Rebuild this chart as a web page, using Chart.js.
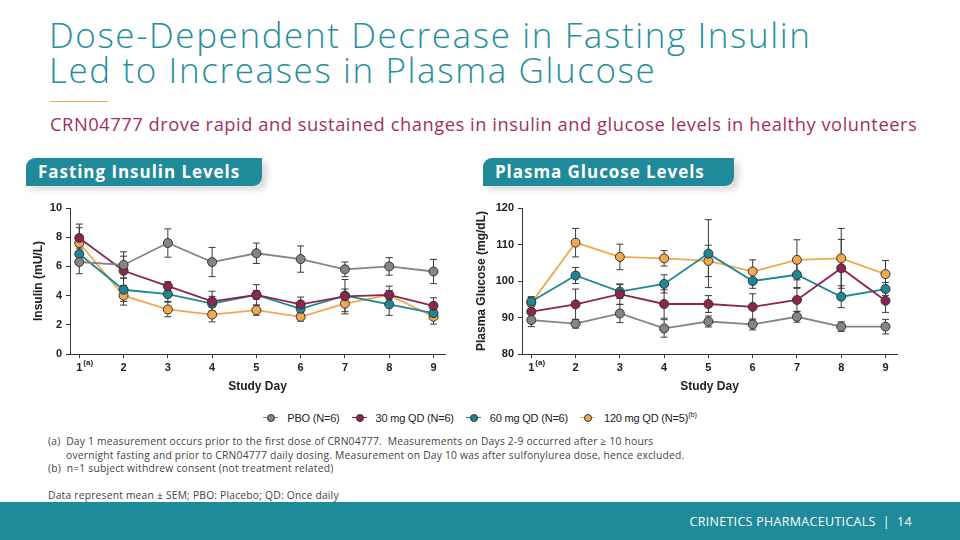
<!DOCTYPE html>
<html lang="en">
<head>
    <meta charset="UTF-8">
    <title>Dose-Dependent Decrease in Fasting Insulin</title>
    <script src="https://cdn.jsdelivr.net/npm/chart.js"></script>
    <style>
        body { margin: 0; width: 960px; height: 540px; position: relative; overflow: hidden; background: #fff; font-family: "Open Sans", sans-serif; }
        #title { position: absolute; left: 49px; top: 17px; font-size: 35px; line-height: 35px; color: #25909c; font-weight: 300; letter-spacing: 1.6px; }
        #rule { position: absolute; left: 50px; top: 101px; width: 58px; height: 1px; background: #f0a94a; }
        #subtitle { position: absolute; left: 50px; top: 111px; font-size: 18.3px; color: #a1305f; letter-spacing: 0.55px; }
        .tab { position: absolute; top: 158px; height: 28px; background: #1f8a9a; color: #fff; font-weight: 700; font-size: 17px; line-height: 28px; padding-left: 12px; border-radius: 9px 0 9px 0; box-shadow: 5px 4px 6px rgba(0,0,0,0.15); box-sizing: border-box; letter-spacing: 0.95px; }
        #tab1 { left: 26px; width: 236px; }
        #tab2 { left: 483px; width: 251px; }
        canvas { position: absolute; }
        #legend { position: absolute; top: 410px; left: 0; width: 960px; text-align: center; font-family: "Liberation Sans", Arial, sans-serif; font-size: 11px; color: #222; letter-spacing: -0.2px; }
        .item { display: inline-block; margin: 0 6px; }
        .key { display: inline-block; position: relative; width: 15px; height: 10px; vertical-align: -1px; margin-right: 9px; }
        .key i { position: absolute; left: 0; top: 4px; width: 15px; height: 1.5px; }
        .key b { position: absolute; left: 4px; top: 1px; width: 6px; height: 6px; border-radius: 50%; border: 1px solid #333; }
        #notes { position: absolute; left: 48px; top: 435px; font-size: 10.3px; line-height: 13.5px; color: #444; letter-spacing: 0.2px; }
        #footer { position: absolute; left: 0; top: 502px; width: 960px; height: 38px; background: #1f8a9a; }
        #footer span { position: absolute; right: 48px; top: 11px; color: #fff; font-size: 12.5px; letter-spacing: 0.3px; }
    </style>
</head>
<body>
    <div id="title">Dose-Dependent Decrease in Fasting Insulin<br>Led to Increases in Plasma Glucose</div>
    <div id="rule"></div>
    <div id="subtitle">CRN04777 drove rapid and sustained changes in insulin and glucose levels in healthy volunteers</div>
    <div class="tab" id="tab1">Fasting Insulin Levels</div>
    <div class="tab" id="tab2">Plasma Glucose Levels</div>

    <canvas id="insulinChart" width="470" height="205" style="left:0; top:195px;"></canvas>
    <canvas id="glucoseChart" width="470" height="205" style="left:452px; top:195px;"></canvas>

    <div id="legend"></div>

    <div id="notes">
        (a)&nbsp; Day 1 measurement occurs prior to the first dose of CRN04777.&nbsp; Measurements on Days 2-9 occurred after ≥ 10 hours<br>
        <span style="padding-left:18px">overnight fasting and prior to CRN04777 daily dosing. Measurement on Day 10 was after sulfonylurea dose, hence excluded.</span><br>
        (b)&nbsp; n=1 subject withdrew consent (not treatment related)<br>
        <br>
        Data represent mean ± SEM; PBO: Placebo; QD: Once daily
    </div>

    <div id="footer"><span>CRINETICS PHARMACEUTICALS&nbsp; |&nbsp; 14</span></div>

    <script>
        // study days and series
        var days = [1, 2, 3, 4, 5, 6, 7, 8, 9];
        var seriesNames = ['PBO (N=6)', '30 mg QD (N=6)', '60 mg QD (N=6)', '120 mg QD (N=5)'];
        var seriesColors = ['#858585', '#8e2452', '#1d8795', '#f2a84c'];

        // fasting insulin (mU/L), mean and SEM
        var insulinPBO = [6.3, 6.1, 7.6, 6.3, 6.9, 6.5, 5.8, 6.0, 5.65];
        var insulin30 = [7.95, 5.7, 4.65, 3.6, 4.05, 3.4, 3.95, 4.05, 3.3];
        var insulin60 = [6.85, 4.4, 4.1, 3.45, 4.05, 3.1, 4.0, 3.4, 2.8];
        var insulin120 = [7.6, 4.0, 3.05, 2.7, 3.0, 2.55, 3.45, 4.05, 2.55];
        var insulinSemPBO = [0.8, 0.9, 0.97, 1.0, 0.7, 0.9, 0.5, 0.6, 0.83];
        var insulinSem30 = [0.7, 1.0, 0.3, 0.7, 0.3, 0.5, 0.5, 0.6, 0.55];
        var insulinSem60 = [0.5, 0.8, 0.5, 0.5, 0.7, 0.4, 1.1, 0.75, 0.4];
        var insulinSem120 = [1.3, 0.65, 0.5, 0.5, 0.35, 0.3, 0.7, 0.3, 0.5];

        // plasma glucose (mg/dL), mean and SEM
        var glucosePBO = [89.3, 88.3, 91.1, 87.0, 88.9, 88.1, 90.2, 87.5, 87.5];
        var glucose30 = [91.6, 93.6, 96.4, 93.7, 93.7, 92.9, 94.8, 103.5, 94.6];
        var glucose60 = [94.4, 101.5, 97.1, 99.2, 107.5, 100.0, 101.7, 95.7, 97.8];
        var glucose120 = [94.0, 110.5, 106.6, 106.2, 105.5, 102.6, 105.8, 106.2, 101.9];
        var glucoseSemPBO = [1.8, 1.2, 2.5, 2.4, 1.5, 1.5, 1.5, 1.3, 2.0];
        var glucoseSem30 = [1.5, 4.2, 2.8, 3.9, 2.3, 3.6, 3.2, 7.9, 3.2];
        var glucoseSem60 = [1.3, 2.2, 1.9, 2.5, 9.3, 2.0, 3.5, 3.0, 1.8];
        var glucoseSem120 = [1.5, 3.9, 3.5, 2.1, 4.3, 3.2, 5.5, 8.2, 3.7];

        // legend
        var legend = document.getElementById('legend');
        seriesNames.forEach(function(name, i) {
            var sup = i === 3 ? '<sup style="font-size:7.5px">(b)</sup>' : '';
            legend.innerHTML += '<span class="item"><span class="key"><i style="background:' + seriesColors[i] + '"></i><b style="background:' + seriesColors[i] + '"></b></span>' + name + sup + '</span>';
        });

        var axisFont = 'Liberation Sans, Arial, sans-serif';

        // error bars drawn with the chart's own scales, plus the "(a)" note on day 1
        var errorBars = {
            id: 'errorBars',
            beforeDatasetsDraw: function(chart) {
                var ctx = chart.ctx;
                var xs = chart.scales.x, ys = chart.scales.y;
                ctx.save();
                ctx.strokeStyle = '#3a3a3a';
                ctx.lineWidth = 1;
                chart.data.datasets.forEach(function(ds) {
                    ds.data.forEach(function(p, j) {
                        var x = xs.getPixelForValue(p.x);
                        var top = ys.getPixelForValue(p.y + ds.sem[j]);
                        var bot = ys.getPixelForValue(p.y - ds.sem[j]);
                        ctx.beginPath();
                        ctx.moveTo(x, top); ctx.lineTo(x, bot);
                        ctx.moveTo(x - 3.5, top); ctx.lineTo(x + 3.5, top);
                        ctx.moveTo(x - 3.5, bot); ctx.lineTo(x + 3.5, bot);
                        ctx.stroke();
                    });
                });
                ctx.restore();
            },
            afterDraw: function(chart) {
                var ctx = chart.ctx;
                var x = chart.scales.x.getPixelForValue(days[0]);
                ctx.save();
                ctx.fillStyle = '#222';
                ctx.font = 'bold 8px ' + axisFont;
                ctx.textBaseline = 'middle';
                ctx.fillText('(a)', x + 4, chart.scales.x.top + 9);
                ctx.restore();
            }
        };

        function makeDatasets(means, sems) {
            return means.map(function(vals, i) {
                return {
                    label: seriesNames[i],
                    data: vals.map(function(v, j) { return { x: days[j], y: v }; }),
                    sem: sems[i],
                    borderColor: seriesColors[i],
                    backgroundColor: seriesColors[i],
                    borderWidth: 1.8,
                    pointRadius: 4.5,
                    pointBorderColor: '#333',
                    pointBorderWidth: 1,
                    tension: 0
                };
            });
        }

        function makeChart(id, means, sems, yMin, yMax, yStep, yTitle, titleGap) {
            var tickFont = { family: axisFont, size: 11, weight: 'bold' };
            return new Chart(document.getElementById(id), {
                type: 'line',
                data: { datasets: makeDatasets(means, sems) },
                options: {
                    responsive: false,
                    animation: false,
                    layout: { padding: { top: 13, right: 25, left: 0, bottom: 0 } },
                    plugins: { legend: { display: false }, tooltip: { enabled: false } },
                    scales: {
                        x: {
                            type: 'linear',
                            min: 0.79,
                            max: 9.26,
                            afterBuildTicks: function(s) { s.ticks = days.map(function(d) { return { value: d }; }); },
                            afterFit: function(s) { s.height = 46; },
                            grid: { display: true, drawOnChartArea: false, color: '#333', tickLength: 4 },
                            border: { color: '#333', width: 1 },
                            ticks: { color: '#222', font: tickFont, padding: 3 },
                            title: { display: true, text: 'Study Day', color: '#222', font: { family: axisFont, size: 12, weight: 'bold' }, padding: { top: 2, bottom: 6 } }
                        },
                        y: {
                            min: yMin,
                            max: yMax,
                            afterFit: function(s) { s.width = 70; },
                            grid: { display: true, drawOnChartArea: false, color: '#333', tickLength: 4 },
                            border: { color: '#333', width: 1 },
                            ticks: { stepSize: yStep, color: '#222', font: tickFont, padding: 4 },
                            title: { display: true, text: yTitle, color: '#222', font: { family: axisFont, size: 12, weight: 'bold' }, padding: { top: titleGap, bottom: 4 } }
                        }
                    }
                },
                plugins: [errorBars]
            });
        }

        makeChart('insulinChart',
            [insulinPBO, insulin30, insulin60, insulin120],
            [insulinSemPBO, insulinSem30, insulinSem60, insulinSem120],
            0, 10, 2, 'Insulin (mU/L)', 31);
        makeChart('glucoseChart',
            [glucosePBO, glucose30, glucose60, glucose120],
            [glucoseSemPBO, glucoseSem30, glucoseSem60, glucoseSem120],
            80, 120, 10, 'Plasma Glucose (mg/dL)', 22);
    </script>
</body>
</html>
